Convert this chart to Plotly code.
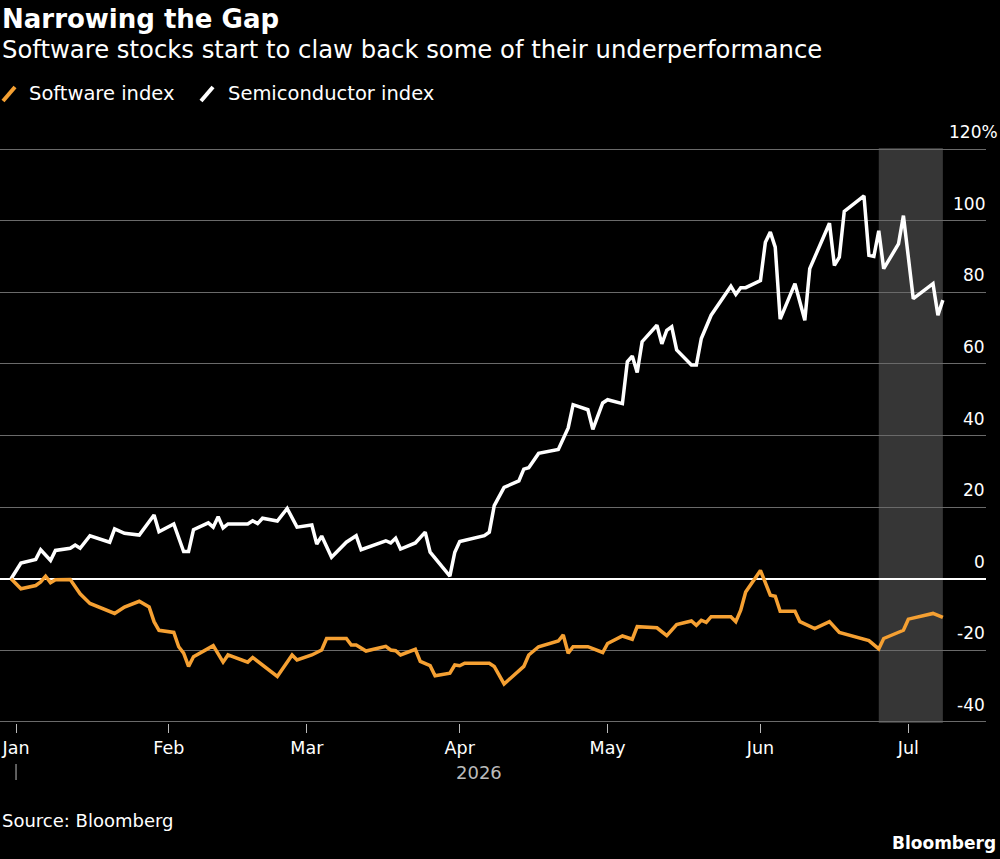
import plotly.graph_objects as go

# ---------------- data ----------------
semi_dates = [
    "2025-12-31", "2026-01-02", "2026-01-05", "2026-01-06", "2026-01-08", "2026-01-09",
    "2026-01-12", "2026-01-13", "2026-01-14", "2026-01-16", "2026-01-20", "2026-01-21",
    "2026-01-23", "2026-01-26", "2026-01-29", "2026-01-30", "2026-02-02", "2026-02-04",
    "2026-02-05", "2026-02-06", "2026-02-09", "2026-02-10", "2026-02-11", "2026-02-12",
    "2026-02-13", "2026-02-17", "2026-02-18", "2026-02-19", "2026-02-20", "2026-02-23",
    "2026-02-25", "2026-02-27", "2026-03-02", "2026-03-03", "2026-03-04", "2026-03-06",
    "2026-03-09", "2026-03-11", "2026-03-12", "2026-03-17", "2026-03-18", "2026-03-19",
    "2026-03-20", "2026-03-23", "2026-03-25", "2026-03-26", "2026-03-30", "2026-03-31",
    "2026-04-01", "2026-04-06", "2026-04-07", "2026-04-08", "2026-04-10", "2026-04-13",
    "2026-04-14", "2026-04-15", "2026-04-17", "2026-04-21", "2026-04-23", "2026-04-24",
    "2026-04-27", "2026-04-28", "2026-04-30", "2026-05-01", "2026-05-04", "2026-05-05",
    "2026-05-06", "2026-05-07", "2026-05-08", "2026-05-11", "2026-05-12", "2026-05-13",
    "2026-05-14", "2026-05-15", "2026-05-18", "2026-05-19", "2026-05-20", "2026-05-22",
    "2026-05-26", "2026-05-27", "2026-05-28", "2026-05-29", "2026-06-01", "2026-06-02",
    "2026-06-03", "2026-06-04", "2026-06-05", "2026-06-08", "2026-06-10", "2026-06-11",
    "2026-06-15", "2026-06-16", "2026-06-17", "2026-06-18", "2026-06-22", "2026-06-23",
    "2026-06-24", "2026-06-25", "2026-06-26", "2026-06-29", "2026-06-30", "2026-07-02",
    "2026-07-06", "2026-07-07", "2026-07-08",
]
semi_values = [
    0.0, 4.4, 5.4, 8.1, 5.1, 7.9,
    8.5, 9.4, 8.5, 12.0, 10.2, 13.9,
    12.7, 12.2, 17.8, 13.1, 15.3, 7.6,
    7.6, 13.7, 15.6, 14.4, 17.3, 14.2,
    15.3, 15.3, 16.2, 15.4, 16.9, 16.1,
    19.6, 14.4, 15.0, 9.7, 11.9, 6.0,
    10.2, 12.0, 8.1, 10.6, 10.0, 11.3,
    8.3, 10.0, 13.0, 7.4, 0.7, 7.4,
    10.4, 12.0, 13.0, 20.4, 25.5, 27.3,
    30.6, 31.0, 35.0, 36.1, 42.1, 48.6,
    47.2, 41.7, 49.1, 50.0, 48.9, 60.6,
    62.2, 57.6, 66.2, 70.8, 65.6, 69.4,
    70.4, 63.9, 59.7, 59.7, 67.1, 73.6,
    81.7, 79.4, 81.3, 81.3, 83.3, 94.0,
    96.8, 92.6, 72.5, 82.4, 72.2, 86.6,
    99.3, 87.5, 89.8, 102.6, 106.9, 90.3,
    90.0, 97.2, 86.6, 93.5, 101.4, 78.2,
    82.4, 73.6, 77.8,
]

soft_dates = [
    "2025-12-31", "2026-01-02", "2026-01-05", "2026-01-06", "2026-01-07", "2026-01-08",
    "2026-01-09", "2026-01-12", "2026-01-14", "2026-01-16", "2026-01-21", "2026-01-23",
    "2026-01-26", "2026-01-28", "2026-01-29", "2026-01-30", "2026-02-02", "2026-02-03",
    "2026-02-04", "2026-02-05", "2026-02-06", "2026-02-10", "2026-02-12", "2026-02-13",
    "2026-02-17", "2026-02-18", "2026-02-23", "2026-02-26", "2026-02-27", "2026-03-02",
    "2026-03-04", "2026-03-05", "2026-03-09", "2026-03-10", "2026-03-11", "2026-03-13",
    "2026-03-17", "2026-03-18", "2026-03-19", "2026-03-20", "2026-03-23", "2026-03-24",
    "2026-03-26", "2026-03-27", "2026-03-30", "2026-03-31", "2026-04-01", "2026-04-02",
    "2026-04-07", "2026-04-08", "2026-04-10", "2026-04-14", "2026-04-15", "2026-04-17",
    "2026-04-21", "2026-04-22", "2026-04-23", "2026-04-24", "2026-04-27", "2026-04-30",
    "2026-05-01", "2026-05-04", "2026-05-06", "2026-05-07", "2026-05-11", "2026-05-13",
    "2026-05-15", "2026-05-18", "2026-05-19", "2026-05-20", "2026-05-21", "2026-05-22",
    "2026-05-26", "2026-05-27", "2026-05-28", "2026-05-29", "2026-06-01", "2026-06-03",
    "2026-06-04", "2026-06-05", "2026-06-08", "2026-06-09", "2026-06-12", "2026-06-15",
    "2026-06-17", "2026-06-22", "2026-06-23", "2026-06-25", "2026-06-26", "2026-06-30",
    "2026-07-01", "2026-07-06", "2026-07-08",
]
soft_values = [
    0.0, -2.8, -1.9, -0.9, 0.7, -1.1,
    -0.3, -0.2, -4.2, -6.9, -9.7, -7.9,
    -6.3, -7.9, -12.0, -14.4, -15.0, -19.0,
    -20.8, -24.5, -21.8, -18.7, -23.3, -21.3,
    -23.3, -22.0, -27.3, -21.3, -22.7, -21.3,
    -19.9, -16.7, -16.7, -18.5, -18.5, -20.2,
    -18.9, -19.9, -20.1, -21.3, -19.7, -23.1,
    -24.3, -27.1, -26.4, -24.1, -24.3, -23.6,
    -23.6, -24.5, -29.4, -24.5, -21.3, -19.0,
    -17.4, -15.7, -20.8, -19.0, -19.0, -20.6,
    -18.1, -16.0, -16.9, -13.4, -13.7, -15.9,
    -12.8, -11.8, -13.0, -11.6, -12.2, -10.6,
    -10.6, -12.0, -8.8, -3.7, 2.3, -4.6,
    -4.9, -9.1, -9.1, -12.0, -13.9, -12.0,
    -15.0, -17.1, -17.3, -19.6, -16.7, -14.4,
    -11.3, -9.7, -10.8,
]

shade_start = "2026-06-25"
shade_end = "2026-07-08"

month_ticks = ["2026-01-01", "2026-02-01", "2026-03-01", "2026-04-01",
               "2026-05-01", "2026-06-01", "2026-07-01"]
month_labels = ["Jan", "Feb", "Mar", "Apr", "May", "Jun", "Jul"]

y_ticks = [-40, -20, 0, 20, 40, 60, 80, 100, 120]
y_labels = ["-40", "-20", "0", "20", "40", "60", "80", "100", "120%"]

# ---------------- layout helpers ----------------
W, H = 1000, 859
M_L, M_R, M_T, M_B = 0, 14, 148, 136
PW = W - M_L - M_R
PH = H - M_T - M_B


def px_x(px):
    return (px - M_L) / PW


def px_y(py):
    return (H - M_B - py) / PH


ORANGE = "#F5A032"
WHITE = "#FFFFFF"
FONT = "DejaVu Sans"

fig = go.Figure()

fig.add_trace(go.Scatter(
    x=semi_dates, y=semi_values, mode="lines", name="Semiconductor index",
    line=dict(color=WHITE, width=3.5), showlegend=False, hoverinfo="skip",
))
fig.add_trace(go.Scatter(
    x=soft_dates, y=soft_values, mode="lines", name="Software index",
    line=dict(color=ORANGE, width=3.5), showlegend=False, hoverinfo="skip",
))

shapes = [
    dict(type="rect", xref="x", yref="paper", x0=shade_start, x1=shade_end,
         y0=0, y1=1, fillcolor="#363636", line=dict(width=0), layer="below"),
    # year separator tick under Jan
    dict(type="line", xref="x", yref="paper", x0=month_ticks[0], x1=month_ticks[0],
         y0=px_y(764), y1=px_y(780), line=dict(color="#BBBBBB", width=1)),
    # legend slashes
    dict(type="line", xref="paper", yref="paper", x0=px_x(3), x1=px_x(15),
         y0=px_y(101), y1=px_y(87), line=dict(color=ORANGE, width=4)),
    dict(type="line", xref="paper", yref="paper", x0=px_x(201), x1=px_x(213),
         y0=px_y(101), y1=px_y(87), line=dict(color=WHITE, width=4)),
]

annotations = [
    dict(text="<b>Narrowing the Gap</b>", xref="paper", yref="paper",
         x=px_x(0), y=px_y(2), xanchor="left", yanchor="top", showarrow=False,
         font=dict(family=FONT, size=26, color="#FFFFFF")),
    dict(text="Software stocks start to claw back some of their underperformance",
         xref="paper", yref="paper", x=px_x(0), y=px_y(33), xanchor="left",
         yanchor="top", showarrow=False,
         font=dict(family=FONT, size=24.3, color="#FFFFFF")),
    dict(text="Software index", xref="paper", yref="paper", x=px_x(27), y=px_y(94),
         xanchor="left", yanchor="middle", showarrow=False,
         font=dict(family=FONT, size=19.5, color="#FFFFFF")),
    dict(text="Semiconductor index", xref="paper", yref="paper", x=px_x(226),
         y=px_y(94), xanchor="left", yanchor="middle", showarrow=False,
         font=dict(family=FONT, size=19.5, color="#FFFFFF")),
    dict(text="2026", xref="paper", yref="paper", x=px_x(479), y=px_y(772),
         xanchor="center", yanchor="middle", showarrow=False,
         font=dict(family=FONT, size=18, color="#BBBBBB")),
    dict(text="Source: Bloomberg", xref="paper", yref="paper", x=px_x(0),
         y=px_y(820), xanchor="left", yanchor="middle", showarrow=False,
         font=dict(family=FONT, size=18, color="#FFFFFF")),
    dict(text="<b>Bloomberg</b>", xref="paper", yref="paper", x=px_x(944),
         y=px_y(843), xanchor="center", yanchor="middle", showarrow=False,
         font=dict(family=FONT, size=17, color="#FFFFFF")),
]

# y-axis value labels sit above their gridlines at the right edge
for v, lab in zip(y_ticks, y_labels):
    annotations.append(dict(
        text=lab, xref="paper", yref="y", x=px_x(987), y=v,
        xanchor="right", yanchor="middle", yshift=17,
        xshift=13 if lab.endswith("%") else 0, showarrow=False,
        font=dict(family=FONT, size=17, color="#FFFFFF"),
    ))

fig.update_layout(
    width=W, height=H,
    margin=dict(l=M_L, r=M_R, t=M_T, b=M_B, pad=0),
    paper_bgcolor="#000000", plot_bgcolor="#000000",
    showlegend=False,
    shapes=shapes, annotations=annotations,
    font=dict(family=FONT, color="#FFFFFF"),
    xaxis=dict(
        type="date",
        range=["2025-12-28 18:00", "2026-07-16 18:00"],
        tickmode="array", tickvals=month_ticks, ticktext=month_labels,
        ticks="outside", ticklen=9, tickwidth=1, tickcolor="#BBBBBB",
        tickfont=dict(family=FONT, size=17.5, color="#FFFFFF"),
        showgrid=False, zeroline=False, showline=False, automargin=False,
        fixedrange=True,
    ),
    yaxis=dict(
        range=[-40.3, 120.3], side="right",
        tickmode="array", tickvals=y_ticks, showticklabels=False, ticks="",
        showgrid=True, gridcolor="#6A6A6A", gridwidth=1,
        zeroline=True, zerolinecolor="#FFFFFF", zerolinewidth=2,
        showline=False, automargin=False, fixedrange=True,
    ),
)

fig.write_html("out.html")
